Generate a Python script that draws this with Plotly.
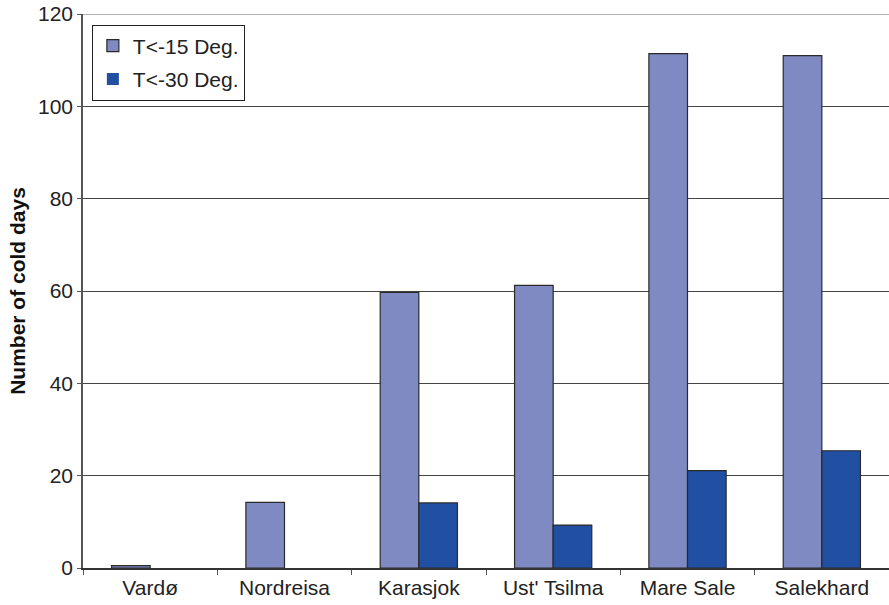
import plotly.graph_objects as go

stations = ["Vardø", "Nordreisa", "Karasjok", "Ust' Tsilma", "Mare Sale", "Salekhard"]
days_below_15 = [0.5, 14.2, 59.7, 61.2, 111.4, 111.0]
days_below_30 = [0, 0, 14.1, 9.3, 21.1, 25.4]
y_ticks = [0, 20, 40, 60, 80, 100, 120]

FONT = "Liberation Sans, Arial, sans-serif"


def outline_widths(values):
    return [0 if v == 0 else 1.2 for v in values]


fig = go.Figure()
fig.add_trace(go.Bar(
    x=stations, y=days_below_15, name="T<-15 Deg.", legendgroup="a",
    marker=dict(color="#7F89C2", line=dict(color="#2a2a2a", width=outline_widths(days_below_15))),
))
fig.add_trace(go.Bar(
    x=stations, y=days_below_30, name="T<-30 Deg.", legendgroup="b",
    marker=dict(color="#2150A2", line=dict(color="#2a2a2a", width=outline_widths(days_below_30))),
))

# top gridline at the end of the value range (Plotly omits gridlines at the range edge)
fig.add_shape(type="line", xref="paper", yref="y", x0=0, x1=1,
              y0=y_ticks[-1], y1=y_ticks[-1], line=dict(color="#666", width=1))

fig.update_layout(
    width=889, height=605,
    margin=dict(l=83, r=0, t=14, b=37, autoexpand=False),
    paper_bgcolor="white", plot_bgcolor="white",
    barmode="group", bargap=0.425, bargroupgap=0,
    font=dict(family=FONT, size=21, color="#222"),
    showlegend=True,
    legend=dict(
        x=0.011, y=0.981, xanchor="left", yanchor="top",
        bordercolor="#222", borderwidth=1, bgcolor="white",
        font=dict(family=FONT, size=21, color="#222"),
        traceorder="grouped", tracegroupgap=3,
        itemwidth=30, entrywidth=125, entrywidthmode="pixels",
    ),
    xaxis=dict(
        type="category", tickson="boundaries", ticks="outside", ticklen=5,
        tickcolor="#555", showline=True, linecolor="#333", linewidth=1.5,
        showgrid=False, tickfont=dict(size=21, color="#222"), automargin=False,
    ),
    yaxis=dict(
        range=[0, 120], tickvals=y_ticks, ticks="outside", ticklen=4,
        tickcolor="#555", showline=True, linecolor="#555", linewidth=1.5,
        showgrid=True, gridcolor="#444", gridwidth=1,
        tickfont=dict(size=21, color="#222"),
        title=dict(text="<b>Number of cold days</b>", font=dict(size=21, color="#111"), standoff=7),
        zeroline=False, automargin=False,
    ),
)

fig.write_html(
    "out.html",
    config={"displayModeBar": False},
    post_script="document.body.style.margin='0';document.body.style.overflow='hidden';",
)
